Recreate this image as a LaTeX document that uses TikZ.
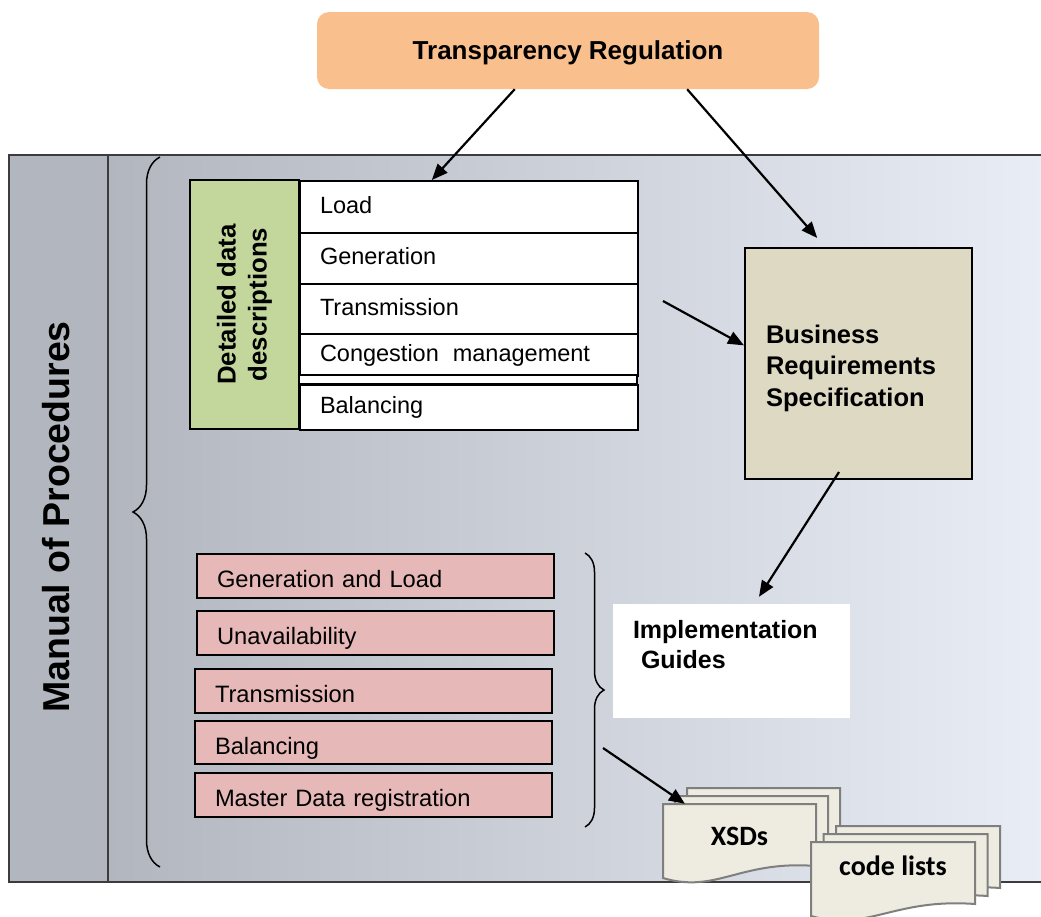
\documentclass[tikz,border=0pt]{standalone}
\usepackage{fontspec}
\setmainfont{Liberation Sans}
\newfontfamily\calibri{Carlito}
\usetikzlibrary{arrows.meta,calc,decorations.pathreplacing}
\definecolor{regfill}{HTML}{F9C08E}
\definecolor{ddfill}{HTML}{C3D69B}
\definecolor{brsfill}{HTML}{DDD9C3}
\definecolor{mopfill}{HTML}{E6B9B8}
\definecolor{pagefill}{HTML}{EEECE1}
\definecolor{pageline}{HTML}{7F7F7F}
\definecolor{shadeleft}{HTML}{B2B6BE}
\definecolor{shademid}{HTML}{CDD2DA}
\definecolor{shaderight}{HTML}{E9EDF5}
\definecolor{framecol}{HTML}{3C3C3C}

\begin{document}
\begin{tikzpicture}[x=1pt, y=-1pt,
    arr/.style={line width=2.2pt, -{Triangle[length=16pt,width=13pt]}},
    ddrow/.style={draw, line width=2pt, fill=white, anchor=north west, text width=298pt, inner xsep=20pt, align=left, font=\fontsize{23.5}{28}\selectfont, text height=16.5pt, text depth=4.5pt},
    mopbox/.style={draw, line width=2pt, fill=mopfill, anchor=north west, text width=317pt, inner xsep=20pt, align=left, minimum height=44pt, font=\fontsize{23.7}{28}\selectfont, text height=23pt, text depth=0pt},
    page/.style={draw=pageline, line width=2pt, fill=pagefill},
    curly/.style={decorate, line width=1.5pt}]
    \useasboundingbox (0,0) rectangle (1041,916);
    % frame
    \shade[left color=shadeleft, middle color=shademid, right color=shaderight] (108,155) rectangle (1045,882);
    \fill[shadeleft] (9,155) rectangle (108,882);
    \draw[framecol, line width=1.5pt] (1045,155) -- (9,155) -- (9,882) -- (1045,882);
    \draw[framecol, line width=1.5pt] (108,155) -- (108,882);
    \node[rotate=90, font=\fontsize{37.5}{44}\selectfont\bfseries] (manual) at (55.6,517) {Manual of Procedures};
    \draw[curly, decoration={brace, amplitude=27pt}] (160,867) -- (160,157);
    \draw[curly, decoration={brace, amplitude=19pt}] (585,553) -- (585,827);
    % data descriptions
    \node[draw, line width=2pt, fill=ddfill, rotate=90, minimum width=249pt, minimum height=109pt, align=center, font=\fontsize{25.8}{31}\selectfont\bfseries] (ddd) at (244.5,304.5) {Detailed data\\descriptions};
    \node[ddrow, minimum height=52pt] (load) at (299,180) {Load};
    \node[ddrow, minimum height=51pt] (gen) at (299,232) {Generation};
    \node[ddrow, minimum height=50pt] (trans) at (299,283) {Transmission};
    \node[ddrow, minimum height=42pt] (cong) at (299,333) {Congestion\hspace{14pt}management};
    \draw[line width=2pt, fill=white] (299,375) rectangle (637,384);
    \node[ddrow, minimum height=45pt] (bal) at (299,384) {Balancing};
    % manual parts
    \node[mopbox] (genload) at (196,553) {Generation and Load};
    \node[mopbox] (unav) at (196,610) {Unavailability};
    \node[mopbox] (transm) at (194,668) {Transmission};
    \node[mopbox, minimum height=43pt] (balan) at (194,720) {Balancing};
    \node[mopbox] (master) at (194,772) {Master Data registration};
    \node[draw, line width=2pt, fill=brsfill, minimum width=227pt, minimum height=231pt, text width=185pt, inner xsep=21pt, align=left, font=\fontsize{25.5}{31.5}\selectfont\bfseries, text depth=59.3pt] (brs) at (858.5,363.5) {Business\\Requirements\\Specification};
    \node[fill=white, minimum width=237pt, minimum height=114pt, text width=197pt, inner xsep=20pt, align=left, font=\fontsize{25}{30}\selectfont\bfseries, text depth=63.9pt] (impl) at (731.5,661) {Implementation\\\hspace*{8pt}Guides};
    \node[fill=regfill, rounded corners=12pt, minimum width=502pt, minimum height=77pt, font=\fontsize{26}{30}\selectfont\bfseries, text depth=0pt] (reg) at (568,50.5) {Transparency Regulation};
    % document stacks
    \foreach \d [evaluate=\d as \px using 663+12*\d, evaluate=\d as \py using 804-8*\d] in {2,1,0}
        \draw[page] (\px,\py+74) -- (\px,\py) -- (\px+153,\py) -- (\px+153,\py+62)
            .. controls (\px+76.5,\py+56) and (\px+53.5,\py+90) .. (\px,\py+74) -- cycle;
    \foreach \d [evaluate=\d as \px using 811+12.5*\d, evaluate=\d as \py using 842-8*\d] in {2,1,0}
        \draw[page] (\px,\py+74) -- (\px,\py) -- (\px+164,\py) -- (\px+164,\py+62)
            .. controls (\px+82,\py+56) and (\px+57.4,\py+90) .. (\px,\py+74) -- cycle;
    \node[minimum width=153pt, minimum height=74pt, font=\fontsize{28}{32}\selectfont\calibri\bfseries] (xsd) at (739.5,841) {\raisebox{-4pt}[0pt][0pt]{XSDs}};
    \node[minimum width=164pt, minimum height=74pt, font=\fontsize{28}{32}\selectfont\calibri\bfseries] (codes) at (893,879) {\raisebox{4pt}[0pt][0pt]{code lists}};
    % arrows
    \coordinate (tabout) at (663,301);
    \coordinate (bracetip) at (603,748);
    \draw[arr] (reg.216) -- (load.144);
    \draw[arr, shorten >=12pt] (reg.342) -- (brs.106);
    \draw[arr] (tabout) -- (brs.171);
    \draw[arr] ($(brs.south)+(-19.5,-8)$) -- ($(impl.north)+(27.5,-7)$);
    \draw[arr] (bracetip) -- (xsd);
\end{tikzpicture}
\end{document}
